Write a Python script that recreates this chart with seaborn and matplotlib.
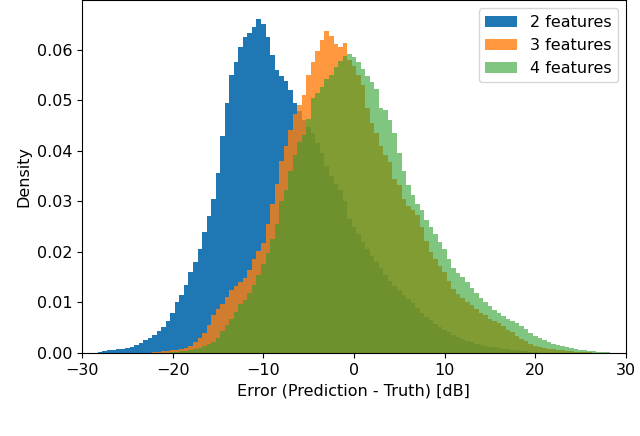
import numpy as np
import pandas as pd
import matplotlib
matplotlib.use("Agg")
import matplotlib.pyplot as plt
import seaborn as sns

# bin width of the histograms [dB]
bin_width = 0.5

# 2 features: bin centres start at -28 dB
start_2 = -28.0
density_2 = [
    0.0002, 0.0004, 0.0005, 0.0006, 0.0007, 0.0008, 0.0010, 0.0012, 0.0016, 0.0020,
    0.0025, 0.0030, 0.0036, 0.0043, 0.0052, 0.0064, 0.0080, 0.0100, 0.0115, 0.0135,
    0.0160, 0.0180, 0.0205, 0.0240, 0.0270, 0.0305, 0.0355, 0.0430, 0.0495, 0.0550,
    0.0575, 0.0605, 0.0625, 0.0632, 0.0645, 0.0660, 0.0650, 0.0625, 0.0590, 0.0560,
    0.0548, 0.0538, 0.0520, 0.0495, 0.0478, 0.0460, 0.0446, 0.0434, 0.0415, 0.0395,
    0.0370, 0.0350, 0.0335, 0.0322, 0.0300, 0.0265, 0.0250, 0.0235, 0.0220, 0.0205,
    0.0192, 0.0180, 0.0168, 0.0155, 0.0143, 0.0132, 0.0124, 0.0115, 0.0106, 0.0099,
    0.0089, 0.0080, 0.0072, 0.0065, 0.0058, 0.0052, 0.0046, 0.0041, 0.0036, 0.0031,
    0.0027, 0.0024, 0.0021, 0.0018, 0.0016, 0.0014, 0.0012, 0.0011, 0.0010, 0.0008,
    0.0007, 0.0006, 0.0005, 0.0004, 0.0003, 0.0002, 0.0001,
]

# 3 features: bin centres start at -22 dB
start_3 = -22.0
density_3 = [
    0.0001, 0.0002, 0.0003, 0.0004, 0.0005, 0.0006, 0.0008, 0.0010, 0.0014, 0.0022,
    0.0030, 0.0040, 0.0055, 0.0075, 0.0087, 0.0097, 0.0110, 0.0124, 0.0132, 0.0140,
    0.0148, 0.0165, 0.0185, 0.0202, 0.0218, 0.0255, 0.0295, 0.0335, 0.0380, 0.0410,
    0.0440, 0.0473, 0.0490, 0.0510, 0.0550, 0.0575, 0.0598, 0.0618, 0.0637, 0.0627,
    0.0610, 0.0605, 0.0613, 0.0580, 0.0568, 0.0550, 0.0530, 0.0485, 0.0455, 0.0434,
    0.0410, 0.0392, 0.0378, 0.0345, 0.0332, 0.0305, 0.0290, 0.0282, 0.0272, 0.0250,
    0.0222, 0.0200, 0.0185, 0.0172, 0.0160, 0.0142, 0.0127, 0.0117, 0.0108, 0.0100,
    0.0094, 0.0087, 0.0080, 0.0075, 0.0068, 0.0063, 0.0059, 0.0053, 0.0046, 0.0041,
    0.0034, 0.0028, 0.0023, 0.0018, 0.0013, 0.0011, 0.0009, 0.0008, 0.0007, 0.0006,
    0.0005, 0.0004, 0.0003, 0.0002, 0.0002, 0.0001, 0.0001,
]

# 4 features: bin centres start at -20 dB
start_4 = -20.0
density_4 = [
    0.0001, 0.0002, 0.0003, 0.0004, 0.0006, 0.0008, 0.0010, 0.0013, 0.0017, 0.0022,
    0.0030, 0.0043, 0.0055, 0.0068, 0.0082, 0.0096, 0.0105, 0.0118, 0.0135, 0.0155,
    0.0175, 0.0198, 0.0225, 0.0256, 0.0300, 0.0322, 0.0360, 0.0392, 0.0418, 0.0432,
    0.0462, 0.0505, 0.0515, 0.0525, 0.0542, 0.0550, 0.0565, 0.0578, 0.0588, 0.0592,
    0.0585, 0.0576, 0.0562, 0.0548, 0.0535, 0.0522, 0.0485, 0.0480, 0.0460, 0.0434,
    0.0395, 0.0360, 0.0332, 0.0312, 0.0295, 0.0282, 0.0262, 0.0250, 0.0236, 0.0220,
    0.0205, 0.0185, 0.0168, 0.0158, 0.0150, 0.0140, 0.0128, 0.0118, 0.0108, 0.0100,
    0.0092, 0.0085, 0.0080, 0.0074, 0.0068, 0.0063, 0.0059, 0.0053, 0.0047, 0.0040,
    0.0034, 0.0030, 0.0025, 0.0021, 0.0018, 0.0016, 0.0013, 0.0011, 0.0009, 0.0008,
    0.0006, 0.0005, 0.0004, 0.0003, 0.0002, 0.0002, 0.0001,
]

labels = ["2 features", "3 features", "4 features"]


def to_frame(start, dens, label):
    centres = start + bin_width * np.arange(len(dens))
    return pd.DataFrame({"error": centres, "density": dens, "model": label})


df = pd.concat([
    to_frame(start_2, density_2, labels[0]),
    to_frame(start_3, density_3, labels[1]),
    to_frame(start_4, density_4, labels[2]),
])

plt.rcParams["font.size"] = 11.5

fig = plt.figure(figsize=(6.4, 4.36), dpi=100)
ax = fig.add_axes([0.128, 0.1904, 0.85, 0.8085])

colors = ["#1f77b4", "#ff7f0e", "#2ca02c"]
alphas = [1.0, 0.8, 0.6]
for lab, col, a in zip(labels, colors, alphas):
    sub = df[df["model"] == lab]
    lo = sub["error"].min() - bin_width / 2
    hi = sub["error"].max() + bin_width / 2
    sns.histplot(data=sub, x="error", weights="density",
                 binwidth=bin_width, binrange=(lo, hi),
                 stat="count", color=col, alpha=a, linewidth=0,
                 label=lab, ax=ax)

ax.set_xlim(-30, 30)
ax.set_ylim(0, 0.0697)
ax.set_xlabel("Error (Prediction - Truth) [dB]")
ax.set_ylabel("Density")
ax.legend(loc="upper right")

fig.savefig("out.png", dpi=100)
